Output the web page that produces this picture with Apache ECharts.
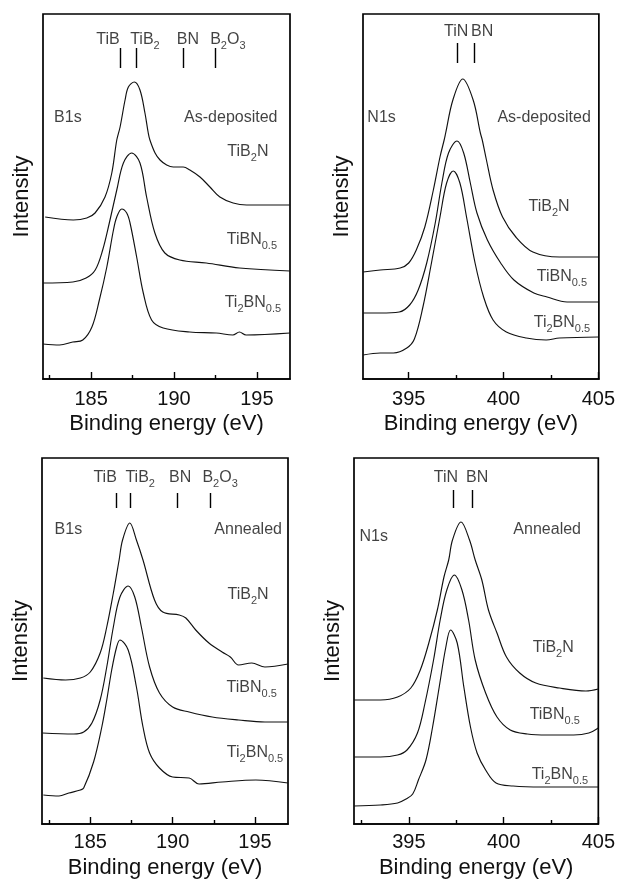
<!DOCTYPE html>
<html><head><meta charset="utf-8">
<script src="https://cdn.jsdelivr.net/npm/echarts@6/dist/echarts.min.js"></script>
<style>html,body{margin:0;padding:0;background:#fff}#c{width:618px;height:881px}</style>
</head><body><div id="c"></div>
<script>
// ---------------- DATA (binding energy eV, intensity a.u.) ----------------
// B1s, as-deposited
const b1sAsDepTiB2N = [[182.23,162],[183.93,159],[184.74,161],[185.24,166],[185.84,182],[186.25,206],[186.55,239],[186.75,252],[187.05,279],[187.25,292],[187.61,297],[187.95,289],[188.25,266],[188.45,246],[188.55,239],[188.86,226],[189.16,219],[189.56,214],[189.96,212],[190.56,212],[190.96,209],[191.57,202],[192.17,192],[192.77,182],[193.57,176],[194.38,174],[196.99,174]];
const b1sAsDepTiBN05 = [[182.1,96],[183.9,97],[184.7,101],[185.25,109],[185.7,129],[186.1,156],[186.55,189],[186.95,216],[187.45,226],[187.95,216],[188.35,182],[188.85,146],[189.45,126],[190.35,119],[191.95,116],[193.95,111],[197,108]];
const b1sAsDepTi2BN05 = [[182.1,35],[183.1,34],[183.9,37],[184.5,39],[185.05,52],[185.5,79],[185.95,112],[186.35,149],[186.55,162],[186.85,170],[187.15,166],[187.35,156],[187.75,122],[188.15,86],[188.65,59],[189.35,51],[190.95,47],[192.55,46],[193.55,44],[193.95,47],[194.35,44],[197,46]];
// N1s, as-deposited
const n1sAsDepTiB2N = [[392.6,107],[393.5,109],[394.55,111],[395,116],[395.4,129],[395.85,152],[396.3,189],[396.65,222],[396.87,239],[396.95,246],[397.33,279],[397.85,300],[398.4,279],[398.78,246],[398.88,239],[399.1,219],[399.45,189],[399.95,162],[400.65,142],[401.55,127],[402.95,122],[405,122]];
const n1sAsDepTiBN05 = [[392.6,66],[393.5,66],[394.5,67],[395.05,74],[395.5,89],[395.95,116],[396.4,156],[396.75,196],[397.1,226],[397.55,238],[397.9,226],[398.25,196],[398.6,166],[399.15,139],[399.85,116],[400.55,99],[401.6,86],[402.3,82],[403.35,77],[405,77]];
const n1sAsDepTi2BN05 = [[392.6,24],[393.5,26],[394.2,26],[394.9,31],[395.3,40],[395.75,72],[396.2,116],[396.65,162],[397.0,196],[397.35,208],[397.7,196],[398.05,162],[398.5,116],[398.95,82],[399.45,59],[400.15,47],[401.2,41],[402.25,39],[402.95,41],[405,42]];
// B1s, annealed
const b1sAnnTiB2N = [[182.15,146],[183.5,144],[184.4,146],[185,152],[185.6,171],[186.0,197],[186.4,231],[186.75,264],[186.96,284],[187.4,301],[187.8,284],[188.2,264],[188.9,224],[189.4,212],[190.4,209],[190.8,206],[191.4,194],[192.2,181],[193.0,172],[193.5,167],[194.0,159],[194.8,161],[195.6,157],[197,160]];
const b1sAnnTiBN05 = [[182.1,91],[184.0,90],[184.6,92],[185.1,101],[185.6,124],[186.0,157],[186.4,197],[186.8,227],[187.3,238],[187.7,227],[188.1,197],[188.6,157],[189.2,131],[190.0,117],[191.0,112],[192.4,107],[194,104],[195.6,102],[197,102]];
const b1sAnnTi2BN05 = [[182.15,29],[183.1,28],[183.7,31],[184.4,34],[184.6,36],[185.2,62],[185.7,97],[186.0,124],[186.3,154],[186.6,177],[186.8,184],[187.3,174],[187.8,137],[188.2,97],[188.6,71],[189.2,56],[190,47],[191,46],[191.6,40],[193,42],[195.05,44],[197,41]];
// N1s, annealed
const n1sAnnTiB2N = [[392.1,124],[393.5,124],[394.4,127],[395.1,136],[395.6,154],[396.05,181],[396.5,214],[396.85,247],[397.1,264],[397.3,284],[397.75,302],[398.2,284],[398.5,264],[398.85,244],[399.2,214],[399.65,191],[400.15,167],[400.85,151],[401.7,141],[402.95,136],[404.35,133],[405,135]];
const n1sAnnTiBN05 = [[392.1,67],[393.5,67],[394.4,69],[394.9,74],[395.45,91],[395.85,121],[396.3,164],[396.65,204],[397,234],[397.4,249],[397.8,234],[398.15,204],[398.5,164],[399.05,131],[399.65,107],[400.35,94],[401.25,90],[402.3,89],[403.7,89],[404.5,91],[405,96]];
const n1sAnnTi2BN05 = [[392.1,18],[393.5,19],[394.4,21],[394.85,25],[395.2,30],[395.5,44],[395.9,64],[396.25,97],[396.6,137],[396.95,177],[397.2,194],[397.55,181],[397.9,137],[398.25,97],[398.6,71],[399.05,54],[399.6,41],[400.5,38],[402,37],[404,37],[405,37]];

// sample names
const sampleNames = ['{n|TiB}{s|2}{n|N}', '{n|TiBN}{s|0.5}', '{n|Ti}{s|2}{n|BN}{s|0.5}'];
// reference peak positions
const b1sRefNames = ['{n|TiB}', '{n|TiB}{s|2}', '{n|BN}', '{n|B}{s|2}{n|O}{s|3}'];
const b1sAsDepRefE = [186.75, 187.7, 190.56, 192.5];
const b1sAnnRefE = [186.6, 187.4, 190.28, 192.3];
const n1sRefNames = ['{n|TiN}', '{n|BN}'];
const n1sAsDepRefE = [397.55, 398.47];
const n1sAnnRefE = [397.35, 398.35];
// axis ticks
const b1sMajorTicks = [185, 190, 195];
const b1sMinorTicks = [182.5, 187.5, 192.5];
const n1sMajorTicks = [395, 400, 405];
const n1sMinorTicks = [392.5, 397.5, 402.5];

// ---------------- LAYOUT ----------------
const FONT = '"Liberation Sans", Arial, Helvetica, sans-serif';
const panels = [
  { grid: {left: 43, top: 14, width: 247, height: 365}, xMin: 182.1, xMax: 197.0, yMax: 365,
    curves: [b1sAsDepTiB2N, b1sAsDepTiBN05, b1sAsDepTi2BN05], refNames: b1sRefNames, refE: b1sAsDepRefE,
    refLabelE: [186.02, 188.25, 190.84, 193.25], refY: [311, 331, 339],
    majors: b1sMajorTicks, minors: b1sMinorTicks, labelMargin: 10, nameGap: 34,
    notes: [[183.6, 261, '{n|B1s}'], [193.43, 261, '{n|As-deposited}'], [194.46, 227, sampleNames[0]], [194.7, 139, sampleNames[1]], [194.76, 76, sampleNames[2]]] },
  { grid: {left: 363, top: 14, width: 237, height: 365}, xMin: 392.59, xMax: 405.03, yMax: 365,
    curves: [n1sAsDepTiB2N, n1sAsDepTiBN05, n1sAsDepTi2BN05], refNames: n1sRefNames, refE: n1sAsDepRefE,
    refLabelE: [397.5, 398.87], refY: [316, 336, 347],
    majors: n1sMajorTicks, minors: n1sMinorTicks, labelMargin: 10, nameGap: 34,
    notes: [[393.57, 261, '{n|N1s}'], [402.14, 261, '{n|As-deposited}'], [402.4, 172, sampleNames[0]], [403.08, 102, sampleNames[1]], [403.08, 56, sampleNames[2]]] },
  { grid: {left: 42, top: 458, width: 246, height: 366}, xMin: 182.07, xMax: 197.0, yMax: 366,
    curves: [b1sAnnTiB2N, b1sAnnTiBN05, b1sAnnTi2BN05], refNames: b1sRefNames, refE: b1sAnnRefE,
    refLabelE: [185.9, 188.03, 190.45, 192.88], refY: [316, 331, 346],
    majors: b1sMajorTicks, minors: b1sMinorTicks, labelMargin: 8, nameGap: 33,
    notes: [[183.67, 294, '{n|B1s}'], [194.58, 294, '{n|Annealed}'], [194.58, 229, sampleNames[0]], [194.8, 136, sampleNames[1]], [195.0, 71, sampleNames[2]]] },
  { grid: {left: 354, top: 458, width: 246, height: 366}, xMin: 392.1, xMax: 405.0, yMax: 366,
    curves: [n1sAnnTiB2N, n1sAnnTiBN05, n1sAnnTi2BN05], refNames: n1sRefNames, refE: n1sAnnRefE,
    refLabelE: [396.95, 398.6], refY: [316, 334, 346],
    majors: n1sMajorTicks, minors: n1sMinorTicks, labelMargin: 8, nameGap: 33,
    notes: [[393.14, 287, '{n|N1s}'], [402.3, 294, '{n|Annealed}'], [402.62, 176, sampleNames[0]], [402.7, 109, sampleNames[1]], [402.97, 49, sampleNames[2]]] }
];

const rich = {
  n: {fontSize: 16, fontFamily: FONT, color: '#111', verticalAlign: 'bottom', lineHeight: 18, padding: [0, 0, 3, 0]},
  s: {fontSize: 11, fontFamily: FONT, color: '#111', verticalAlign: 'bottom', lineHeight: 13}
};

const grids = [], xAxes = [], yAxes = [], series = [];
panels.forEach((p, i) => {
  grids.push(Object.assign({show: true, borderColor: '#000', borderWidth: 1.7, containLabel: false}, p.grid));
  xAxes.push({
    type: 'value', gridIndex: i, min: p.xMin, max: p.xMax,
    axisLine: {show: true, onZero: false, lineStyle: {color: '#000', width: 1.7}},
    axisTick: {show: true, inside: true, length: 7, customValues: p.majors, lineStyle: {color: '#000', width: 1.4}},
    axisLabel: {show: true, customValues: p.majors, margin: p.labelMargin, fontSize: 20, color: '#111', fontFamily: FONT},
    splitLine: {show: false},
    name: 'Binding energy (eV)', nameLocation: 'middle', nameGap: p.nameGap,
    nameTextStyle: {fontSize: 22, color: '#111', fontFamily: FONT}
  });
  xAxes.push({
    type: 'value', gridIndex: i, min: p.xMin, max: p.xMax, position: 'bottom',
    axisLine: {show: false},
    axisTick: {show: true, inside: true, length: 4, customValues: p.minors, lineStyle: {color: '#000', width: 1.4}},
    axisLabel: {show: false}, splitLine: {show: false}
  });
  yAxes.push({
    type: 'value', gridIndex: i, min: 0, max: p.yMax,
    axisLine: {show: false}, axisTick: {show: false}, axisLabel: {show: false}, splitLine: {show: false},
    name: 'Intensity', nameLocation: 'middle', nameGap: 10,
    nameTextStyle: {fontSize: 22, color: '#111', fontFamily: FONT}
  });
  p.curves.forEach(c => {
    series.push({
      type: 'line', xAxisIndex: 2 * i, yAxisIndex: i, data: c, showSymbol: false, smooth: 0.35,
      lineStyle: {color: '#111', width: 1.15}, silent: true, animation: false
    });
  });
  // reference peak markers
  series.push({
    type: 'lines', coordinateSystem: 'cartesian2d', xAxisIndex: 2 * i, yAxisIndex: i, silent: true, animation: false,
    lineStyle: {color: '#000', width: 1.4, opacity: 1},
    data: p.refE.map(e => ({coords: [[e, p.refY[0]], [e, p.refY[1]]]}))
  });
  // text annotations
  const textData = p.refNames.map((n, k) => [p.refLabelE[k], p.refY[2], n]).concat(p.notes);
  series.push({
    type: 'scatter', xAxisIndex: 2 * i, yAxisIndex: i, symbolSize: 1, silent: true, animation: false,
    itemStyle: {color: 'rgba(0,0,0,0)'},
    data: textData,
    label: {show: true, position: 'inside', offset: [0, 2], formatter: q => q.data[2], fontSize: 16, color: '#111', fontFamily: FONT,
      rich: rich}
  });
});

const chart = echarts.init(document.getElementById('c'), null, {renderer: 'canvas'});
chart.setOption({animation: false, backgroundColor: '#fff', grid: grids, xAxis: xAxes, yAxis: yAxes, series: series});
</script>
</body></html>
